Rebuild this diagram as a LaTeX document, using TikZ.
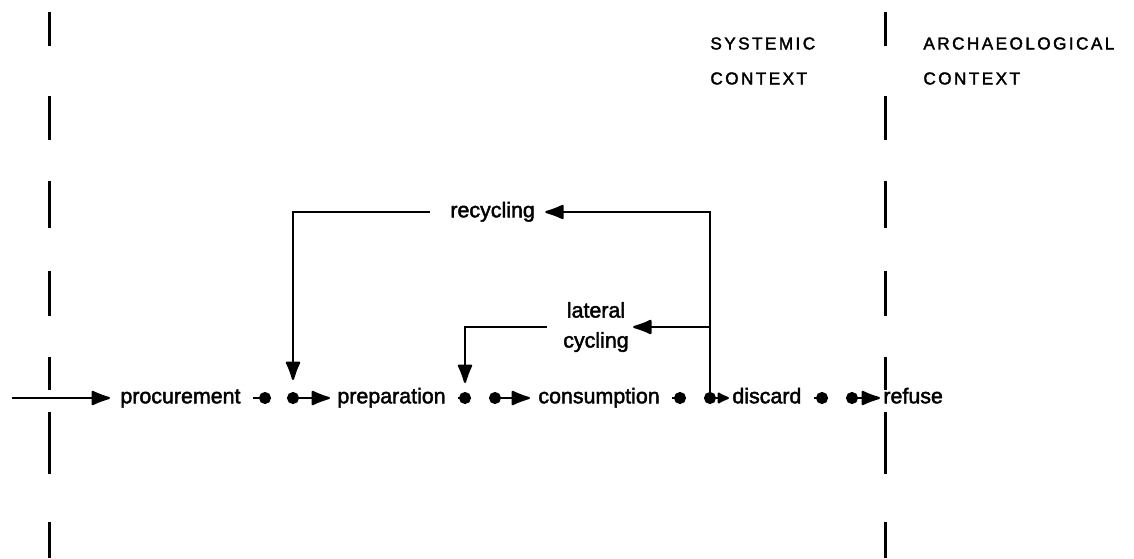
\documentclass[tikz,border=0pt]{standalone}
\usepackage{fontspec}
\setmainfont[FakeBold=2]{Liberation Sans}
\newfontfamily\capsfont[LetterSpace=14,FakeBold=2]{Liberation Sans}
\usetikzlibrary{arrows.meta}
\begin{document}
\begin{tikzpicture}[x=0.5pt,y=-0.5pt,stage/.style={inner sep=0pt,text height=1ex,text depth=0pt,anchor=west,font=\fontsize{10.7}{15}\selectfont},loopname/.style={inner sep=0pt,align=center,font=\fontsize{10.7}{15}\selectfont},ctx/.style={inner sep=0pt,anchor=north west,align=left,font=\capsfont\fontsize{8.6}{17.5}\selectfont},border/.style={line width=1.5pt},flow/.style={line width=1.1pt,-{Latex[round,length=11pt,width=8pt]}},outlink/.style={line width=1.1pt,-{Circle[length=6pt]},shorten <=6pt,shorten >=-3pt},inlink/.style={line width=1.1pt,{Circle[length=6pt]}-{Latex[round,length=11pt,width=8pt]},shorten <=-3pt,shorten >=3.5pt},inlinkS/.style={inlink,{Circle[length=6pt]}-{Latex[round,length=7pt,width=6.5pt]},shorten >=1.5pt}]
\def\ym{398};

\useasboundingbox (0,0) rectangle (1134,558);

% context borders
\foreach \xb in {49,885}
  \foreach \ya/\yb in {12/46,96/140,181/228,271/316,357/390,412/474,522/558}
    \draw[border] (\xb,\ya) -- (\xb,\yb);

\node[ctx] (syst) at (710,37) {SYSTEMIC\\CONTEXT};
\node[ctx] (arch) at (923,37) {ARCHAEOLOGICAL\\CONTEXT};

% stages
\node[stage] (proc) at (120,\ym) {procurement};
\node[stage] (prep) at (337,\ym) {preparation};
\node[stage] (cons) at (538,\ym) {consumption};
\node[stage] (disc) at (732,\ym) {discard};
\node[stage] (refu) at (883,\ym) {refuse};

\coordinate (start) at (12,\ym);
\coordinate (procO) at (265,\ym);
\coordinate (prepI) at (293,\ym);
\coordinate (prepO) at (465,\ym);
\coordinate (consI) at (495,\ym);
\coordinate (consO) at (680,\ym);
\coordinate (discI) at (710,\ym);
\coordinate (discO) at (822,\ym);
\coordinate (refuI) at (852,\ym);

\draw[flow,shorten >=5pt] (start) -- (proc);
\draw[outlink] (proc) -- (procO);
\draw[inlink] (prepI) -- (prep);
\draw[outlink] (prep) -- (prepO);
\draw[inlink,shorten >=4pt] (consI) -- (cons);
\draw[outlink] (cons) -- (consO);
\draw[inlinkS] (discI) -- (disc);
\draw[outlink] (disc) -- (discO);
\draw[inlink,shorten >=1.5pt] (refuI) -- (refu);

% cycling loops
\node[stage] (recyc) at (450,212) {recycling};
\draw[flow,shorten >=5pt] (discI) |- (recyc.east);
\draw[flow,shorten <=10pt,shorten >=9pt] (recyc.west) -| (prepI);

\node[loopname] (latcyc) at (596,327) {lateral\\cycling};
\coordinate (latO) at (discI |- latcyc);
\draw[flow,shorten >=2pt] (latO) -- (latcyc.east);
\draw[flow,shorten <=8pt,shorten >=7.5pt] (latcyc.west) -| (prepO);
\end{tikzpicture}
\end{document}
